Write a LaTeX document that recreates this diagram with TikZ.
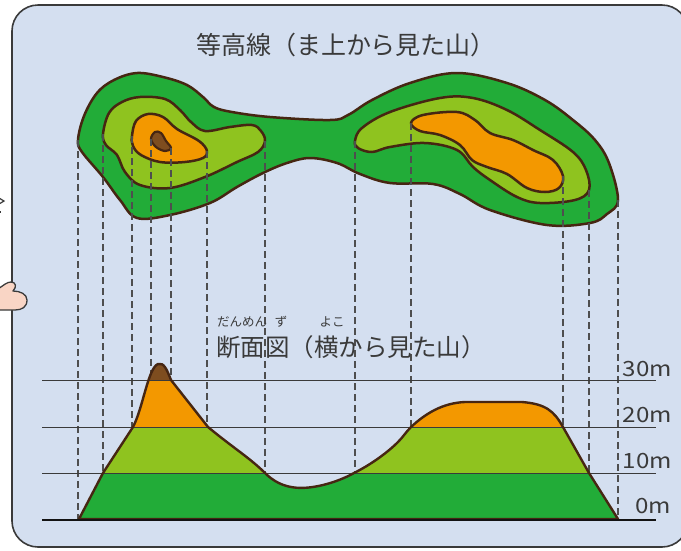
\documentclass[tikz,border=0pt]{standalone}
\usepackage{fontspec}
\newfontfamily\jpfont{Noto Sans CJK JP}
\definecolor{panelbg}{RGB}{212,223,240}
\definecolor{panelline}{RGB}{58,58,58}
\definecolor{lvlA}{RGB}{34,172,56}
\definecolor{lvlB}{RGB}{143,195,31}
\definecolor{lvlC}{RGB}{243,152,0}
\definecolor{lvlD}{RGB}{126,77,31}
\definecolor{rim}{RGB}{70,38,18}
\definecolor{ink}{RGB}{58,58,58}
\definecolor{skin}{RGB}{249,213,197}
\tikzset{
  contour/.style={draw=rim, line width=2.5pt, line join=round},
  guide/.style={draw=ink!90, line width=1.3pt, dash pattern=on 7pt off 4pt},
  level/.style={draw=ink, line width=0.9pt},
  groundline/.style={draw=ink!120, line width=2pt},
  heading/.style={text=ink, font=\jpfont\fontsize{25}{30}\selectfont, inner sep=0pt},
  ruby/.style={text=ink, font=\jpfont\fontsize{12.5}{14}\selectfont, inner sep=0pt},
  hlabel/.style={text=ink, font=\jpfont\fontsize{21}{24}\selectfont, inner sep=0pt, anchor=base east, xscale=1.15},
}
\begin{document}
\begin{tikzpicture}[x=1pt,y=-1pt]
\useasboundingbox (0,0) rectangle (681,550);
\clip (0,0) rectangle (681,550);

% panel
\draw[fill=panelbg, draw=panelline, line width=1.6pt, rounded corners=26pt] (12,5) rectangle (688,547);

% pointing hand and a stroke peeking in from the left
\draw[fill=skin, draw=ink, line width=1.3pt, line join=round]
  (-2,289) .. controls (4,285) and (7,282) .. (11,282)
  .. controls (16,282) and (17,287) .. (13,291)
  .. controls (20,291) and (27,294) .. (27,300)
  .. controls (27,307) and (22,310) .. (15,310) -- (-2,310);
\draw[ink, line width=1.2pt] (-1,198) -- (4,201) -- (-1,204);
\draw[ink, line width=1.2pt] (-1,212) -- (1,212);

% contour map seen from above
\path[contour, fill=lvlA] plot[smooth cycle, tension=0.6] coordinates {
  (78,140) (84,116) (97,93) (114,80) (137,73) (163,77) (187,85) (203,97)
  (214,107) (232,112) (270,117) (330,120) (348,115) (372,100) (410,83)
  (457,73) (507,83) (545,100) (573,120) (595,140) (609,163) (618,200)
  (607,214) (590,223) (547,225) (490,210) (460,194) (433,184) (390,183)
  (360,174) (337,163) (310,158) (287,163) (263,173) (237,187) (210,203)
  (170,215) (137,218) (120,200) (103,177) (82,152)};
\path[contour, fill=lvlB] plot[smooth cycle, tension=0.6] coordinates {
  (103,134) (109,113) (122,102) (140,97) (165,99) (180,110) (191,122)
  (205,131) (230,127) (252,125) (261,131) (265,141) (258,152) (237,162)
  (205,177) (170,188) (140,185) (125,172) (117,155) (106,145)};
\path[contour, fill=lvlB] plot[smooth cycle, tension=0.6] coordinates {
  (355,141) (362,128) (390,112) (440,98) (473,98) (507,110) (540,130)
  (573,152) (586,170) (589,190) (575,200) (540,203) (517,197) (490,180)
  (473,167) (457,150) (425,143) (390,147) (372,152) (358,148)};
\path[contour, fill=lvlC] plot[smooth cycle, tension=0.6] coordinates {
  (132,136) (136,121) (148,114) (163,117) (177,129) (199,141) (207,151)
  (203,158) (185,162) (160,162) (141,155) (133,146)};
\path[contour, fill=lvlC] plot[smooth cycle, tension=0.6] coordinates {
  (411,123) (423,115) (457,112) (475,120) (490,133) (513,140) (533,150)
  (553,160) (563,176) (559,188) (545,192) (527,188) (507,174) (487,167)
  (472,160) (460,145) (440,135) (420,131)};
\path[contour, fill=lvlD, line width=2.2pt] plot[smooth cycle, tension=0.6] coordinates {
  (151,139) (155,132) (161,133) (166,141) (171,148) (165,151) (156,147)};

% guide lines down to the cross-section
\foreach \gx/\gt/\gb in {78/140/519, 103/134/473, 132/136/427, 151/139/380,
  171/148/380, 207/151/427, 265/141/473, 355/141/473, 411/123/427,
  563/176/427, 589/190/473, 618/200/519}
  \draw[guide] (\gx,\gt) -- (\gx,\gb);

% cross-section
\def\profile{(79,519) -- (103,473) -- (133,427)
  .. controls (143,408) and (148,368) .. (158,364)
  .. controls (164,362) and (167,370) .. (171,380)
  -- (208,427)
  .. controls (232,447) and (250,458) .. (265,473)
  .. controls (282,490) and (302,490) .. (323,485)
  .. controls (335,482) and (345,478) .. (354,473)
  .. controls (372,464) and (388,452) .. (398,442)
  .. controls (403,437) and (406,432) .. (411,427)
  .. controls (425,414) and (442,403) .. (465,402)
  -- (522,402)
  .. controls (546,404) and (554,411) .. (563,427)
  -- (589,473) -- (618,519) -- cycle}
\begin{scope}
  \clip \profile;
  \fill[lvlA] (40,473) rectangle (660,525);
  \fill[lvlB] (40,427) rectangle (660,473);
  \fill[lvlC] (40,380) rectangle (660,427);
  \fill[lvlD] (40,340) rectangle (660,380);
\end{scope}

% height lines
\coordinate (l30a) at (42,380); \coordinate (l30b) at (656,380);
\coordinate (l20a) at (42,427); \coordinate (l20b) at (656,427);
\coordinate (l10a) at (42,473); \coordinate (l10b) at (656,473);
\coordinate (l0a) at (42,520);  \coordinate (l0b) at (656,520);
\draw[level] (l30a) -- (l30b);
\draw[level] (l20a) -- (l20b);
\draw[level] (l10a) -- (l10b);
\draw[contour, line width=2.4pt] \profile;
\draw[groundline] (l0a) -- (l0b);

\node[hlabel] (h30) at (672,376) {30m};
\node[hlabel] (h20) at (672,422) {20m};
\node[hlabel] (h10) at (672,468) {10m};
\node[hlabel] (h0)  at (671,513) {0m};

% headings
\node[heading] (top) at (346,45) {等高線（ま上から見た山）};
\node[heading, font=\jpfont\fontsize{24.5}{30}\selectfont] (side) at (351,347) {断面図（横から見た山）};
\node[ruby] (r1) at (242,322) {だんめん};
\node[ruby] (r2) at (281,322) {ず};
\node[ruby] (r3) at (332,322) {よこ};
\end{tikzpicture}
\end{document}
